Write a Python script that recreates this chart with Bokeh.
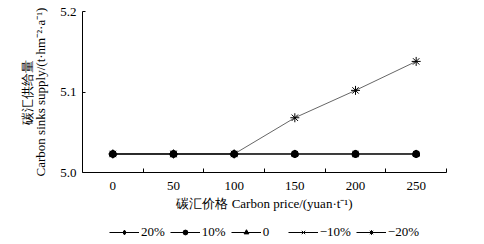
from bokeh.plotting import figure
from bokeh.models import Range1d, FixedTicker, Legend, LegendItem, Title
from bokeh.layouts import column
from bokeh.embed import file_html
from bokeh.resources import INLINE

prices = ["0", "50", "100", "150", "200", "250"]
s_p20 = [5.023, 5.023, 5.023, 5.023, 5.023, 5.023]
s_p10 = [5.023, 5.023, 5.023, 5.023, 5.023, 5.023]
s_0 = [5.023, 5.023, 5.023, 5.023, 5.023, 5.023]
s_m10 = [5.023, 5.023, 5.023, 5.023, 5.023, 5.023]
s_m20 = [5.023, 5.023, 5.023, 5.068, 5.102, 5.138]
series_labels = ["20%", "10%", "0", "\u221210%", "\u221220%"]
y_ticks = [5.0, 5.1, 5.2]

FONT = "Liberation Serif"
FS = "13px"

xs = [i + 0.5 for i in range(len(prices))]

p = figure(width=484, height=220, output_backend="svg", toolbar_location=None,
           x_range=Range1d(0, len(prices)), y_range=Range1d(y_ticks[0], y_ticks[-1]),
           min_border_left=82, min_border_top=11, min_border_right=38, min_border_bottom=48)
p.outline_line_color = None
p.grid.visible = False
p.background_fill_color = "white"
p.border_fill_color = "white"

# legend-only figure below the chart
lf = figure(width=484, height=24, output_backend="svg", toolbar_location=None,
            x_range=Range1d(100, 101), y_range=Range1d(0, 1),
            x_axis_location=None, y_axis_location=None,
            min_border_left=0, min_border_right=0, min_border_top=0, min_border_bottom=0)
lf.outline_line_color = None
lf.grid.visible = False
lf.background_fill_color = "white"
lf.border_fill_color = "white"

series = [s_p20, s_p10, s_0, s_m10, s_m20]
markers = ["diamond", "circle", "triangle", "x", "asterisk"]
sizes = [8, 7, 7, 8, 9]
items = []
for vals, m, sz, lab in zip(series, markers, sizes, series_labels):
    p.line(xs, vals, line_color="black", line_width=1, line_alpha=0.6)
    p.scatter(xs, vals, marker=m, size=sz, fill_color="black", line_color="black", line_width=1)
    r1 = lf.line(xs, vals, line_color="black", line_width=1)
    r2 = lf.scatter(xs, vals, marker=m, size=sz, fill_color="black", line_color="black", line_width=1)
    items.append(LegendItem(label=lab, renderers=[r1, r2]))

xa = p.xaxis[0]
xa.ticker = FixedTicker(ticks=xs, minor_ticks=[float(i) for i in range(1, len(prices) + 1)])
xa.major_label_overrides = {x: lab for x, lab in zip(xs, prices)}
xa.major_tick_in = 0
xa.major_tick_out = 0
xa.minor_tick_in = 4
xa.minor_tick_out = 0
xa.minor_tick_line_color = "black"
xa.axis_line_color = "black"
xa.major_label_standoff = 9
xa.major_label_text_font = FONT
xa.major_label_text_font_size = FS
xa.major_label_text_color = "black"
xa.axis_label = "碳汇价格 Carbon price/(yuan·t\u207b\u00b9)"
xa.axis_label_text_font = FONT
xa.axis_label_text_font_size = FS
xa.axis_label_text_font_style = "normal"
xa.axis_label_text_color = "black"
xa.axis_label_standoff = 3

ya = p.yaxis[0]
ya.ticker = FixedTicker(ticks=y_ticks, minor_ticks=[])
ya.major_label_overrides = {t: f"{t:.1f}" for t in y_ticks}
ya.major_tick_in = 3
ya.major_tick_out = 0
ya.major_tick_line_color = "black"
ya.axis_line_color = "black"
ya.major_label_standoff = 6
ya.major_label_text_font = FONT
ya.major_label_text_font_size = FS
ya.major_label_text_color = "black"
ya.axis_label = "Carbon sinks supply/(t·hm\u207b\u00b2·a\u207b\u00b9)"
ya.axis_label_text_font = FONT
ya.axis_label_text_font_size = FS
ya.axis_label_text_font_style = "normal"
ya.axis_label_text_color = "black"
ya.axis_label_standoff = 9

cn_title = Title(text="碳汇供给量", align="center", text_font=FONT, text_font_size=FS,
                 text_font_style="normal", text_color="black", standoff=-8, offset=0)
p.add_layout(cn_title, "left")

legend = Legend(items=items, orientation="horizontal", location="center",
                label_text_font=FONT, label_text_font_size=FS, label_text_color="black",
                glyph_width=30, glyph_height=12, label_height=12, label_standoff=2,
                spacing=5, padding=0, margin=0, border_line_color=None,
                background_fill_alpha=0)
lf.add_layout(legend, "center")

layout = column(p, lf, spacing=0)
open("out.html", "w").write(file_html(layout, INLINE))
